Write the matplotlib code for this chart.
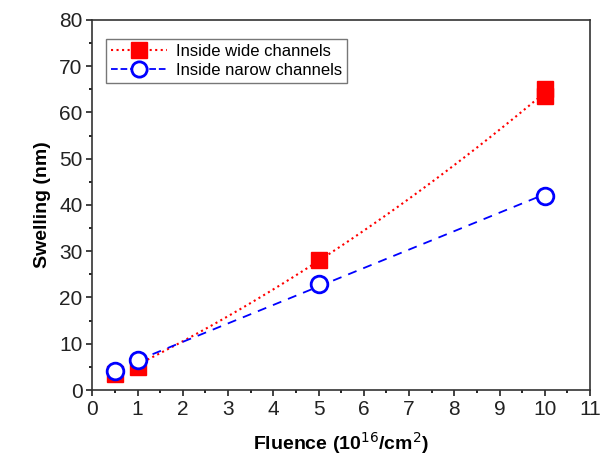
import numpy as np
import matplotlib
matplotlib.use("Agg")
import matplotlib.pyplot as plt
from matplotlib.ticker import MultipleLocator

plt.rcParams['font.family'] = ['Liberation Sans', 'DejaVu Sans']

# data
wide_x = [0.5, 1, 5, 10, 10]
wide_y = [3.5, 5.0, 28.0, 63.5, 65.0]
narrow_x = [0.5, 1, 5, 10]
narrow_y = [4.0, 6.5, 23.0, 42.0]

fig = plt.figure(figsize=(6.07, 4.61), dpi=100)
ax = fig.add_axes([0.152, 0.154, 0.82, 0.803])

# fit curves
xf = np.linspace(1, 10, 100)
pw = np.polyfit(wide_x, wide_y, 2)
pn = np.polyfit(narrow_x, narrow_y, 1)
ax.plot(xf, np.polyval(pw, xf), ':', color='red', lw=1.5)
ax.plot(xf, np.polyval(pn, xf), '--', color='blue', lw=1.3, dashes=(5, 4))

ax.plot(wide_x, wide_y, 's', color='red', ms=11.5, zorder=3)
ax.plot(narrow_x, narrow_y, 'o', mfc='white', mec='blue', mew=2, ms=12, zorder=4)

# legend proxies
h1, = ax.plot([], [], ':s', color='red', ms=11, lw=1.5)
h2, = ax.plot([], [], '--o', color='blue', mfc='white', mec='blue', mew=2, ms=11, lw=1.3)
leg = ax.legend([h1, h2], ['Inside wide channels', 'Inside narow channels'],
                loc='upper left', bbox_to_anchor=(0.01, 0.97), fontsize=12,
                fancybox=False, edgecolor='#555555', handlelength=3.4,
                borderpad=0.3, labelspacing=0.2, handletextpad=0.5, borderaxespad=0.5)
leg.get_frame().set_linewidth(1.0)

ax.set_xlim(0, 11)
ax.set_ylim(0, 80)
ax.xaxis.set_major_locator(MultipleLocator(1))
ax.xaxis.set_minor_locator(MultipleLocator(0.5))
ax.yaxis.set_major_locator(MultipleLocator(10))
ax.yaxis.set_minor_locator(MultipleLocator(5))
ax.tick_params(which='major', direction='out', length=4, width=1.2, labelsize=15,
               colors='#222222', pad=3)
ax.tick_params(which='minor', direction='out', length=2.5, width=1.2)
for s in ax.spines.values():
    s.set_linewidth(1.2)
    s.set_color('#333333')

ax.set_xlabel('Fluence (10$^{16}$/cm$^{2}$)', fontsize=14, fontweight='bold', labelpad=8)
ax.set_ylabel('Swelling (nm)', fontsize=14, fontweight='bold', labelpad=6)

fig.savefig('out.png', dpi=100)
